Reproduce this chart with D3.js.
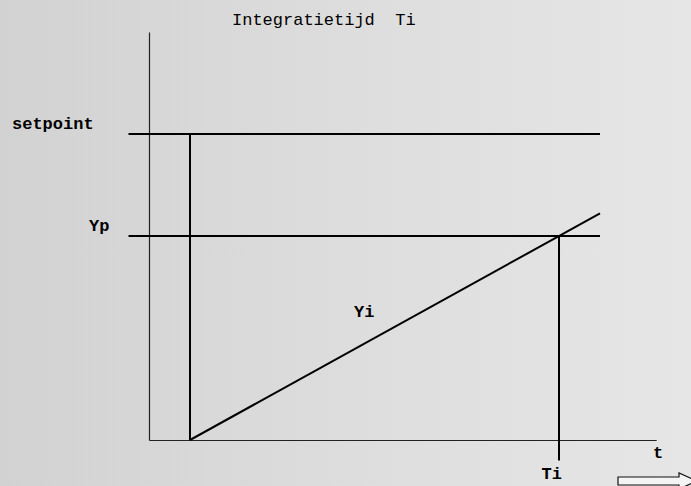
<!DOCTYPE html>
<html>
<head>
<meta charset="utf-8">
<script src="https://cdn.jsdelivr.net/npm/d3@7"></script>
<style>
  html, body { margin: 0; padding: 0; }
  svg { display: block; }
  text { font-family: "Liberation Mono", "DejaVu Sans Mono", monospace; fill: #000; }
</style>
</head>
<body>
<svg width="691" height="486"></svg>
<script>
document.addEventListener("DOMContentLoaded", function () {
  // levels on the y axis (relative units)
  const levelNames = ["setpoint", "Yp"];
  const levelValues = [3, 2];

  // integrating response: starts at t = 1, reaches Yp at t = Ti
  const rampT = [1, 11];
  const rampY = [0, 2.222];
  const stepT = 1;
  const tiValue = 10;

  const tMin = -0.5, tMax = 11, tAxisEnd = 12.37;
  const yAxisTop = 4;

  let svg = d3.select("svg");

  let x = d3.scaleLinear().domain([0, 1]).range([149, 190]);
  let y = d3.scaleLinear().domain([0, 1]).range([440, 338]);

  // background
  let grad = svg.append("defs").append("linearGradient")
    .attr("id", "bg").attr("x1", 0).attr("x2", 1).attr("y1", 0).attr("y2", 0);
  grad.append("stop").attr("offset", "0%").attr("stop-color", "#d2d2d2");
  grad.append("stop").attr("offset", "55%").attr("stop-color", "#dedede");
  grad.append("stop").attr("offset", "100%").attr("stop-color", "#e6e6e6");
  svg.append("rect").attr("width", 691).attr("height", 486).attr("fill", "url(#bg)");

  // axes (no ticks, just the baselines)
  let xAxisScale = x.copy().domain([0, tAxisEnd]).range([x(0), x(tAxisEnd)]);
  let yAxisScale = y.copy().domain([0, yAxisTop]).range([y(0), y(yAxisTop)]);

  svg.append("g")
    .attr("transform", "translate(0," + y(0) + ")")
    .call(d3.axisBottom(xAxisScale).tickValues([]).tickSizeOuter(0))
    .select(".domain").attr("stroke", "#222").attr("stroke-width", 1.2);

  svg.append("g")
    .attr("transform", "translate(" + x(0) + ",0)")
    .call(d3.axisLeft(yAxisScale).tickValues([]).tickSizeOuter(0))
    .select(".domain").attr("stroke", "#222").attr("stroke-width", 1.2);

  // horizontal levels
  svg.selectAll("line.level")
    .data(levelValues)
    .enter()
    .append("line")
    .attr("class", "level")
    .attr("x1", x(tMin))
    .attr("x2", x(tMax))
    .attr("y1", d => y(d))
    .attr("y2", d => y(d))
    .attr("stroke", "#000")
    .attr("stroke-width", 2.2);

  // step line at t = 1
  svg.append("line")
    .attr("x1", x(stepT)).attr("x2", x(stepT))
    .attr("y1", y(0)).attr("y2", y(levelValues[0]))
    .attr("stroke", "#000").attr("stroke-width", 2);

  // ramp
  let line = d3.line().x(d => x(d[0])).y(d => y(d[1]));
  svg.append("path")
    .attr("d", line(d3.zip(rampT, rampY)))
    .attr("fill", "none")
    .attr("stroke", "#000")
    .attr("stroke-width", 2);

  // Ti marker
  svg.append("line")
    .attr("x1", x(tiValue)).attr("x2", x(tiValue))
    .attr("y1", y(levelValues[1])).attr("y2", y(-0.2))
    .attr("stroke", "#000").attr("stroke-width", 2);

  // labels
  svg.append("text")
    .attr("x", 232).attr("y", 25)
    .attr("font-size", 17)
    .attr("xml:space", "preserve")
    .text("Integratietijd  Ti");

  svg.selectAll("text.level")
    .data(levelNames)
    .enter()
    .append("text")
    .attr("class", "level")
    .attr("x", (d, i) => i === 0 ? 12 : 89)
    .attr("y", (d, i) => y(levelValues[i]) - 5)
    .attr("font-size", 17)
    .attr("font-weight", "bold")
    .text(d => d);

  svg.append("text")
    .attr("x", 354).attr("y", 317)
    .attr("font-size", 17).attr("font-weight", "bold")
    .text("Yi");

  svg.append("text")
    .attr("x", x(tiValue) + 3).attr("y", 479)
    .attr("text-anchor", "end")
    .attr("font-size", 17).attr("font-weight", "bold")
    .text("Ti");

  svg.append("text")
    .attr("x", 653).attr("y", 458)
    .attr("font-size", 17).attr("font-weight", "bold")
    .text("t");

  // time arrow
  svg.append("path")
    .attr("d", "M618,477 H679 V473 L697,481 L679,489 V485 H618 Z")
    .attr("fill", "#f4f4f4")
    .attr("stroke", "#111")
    .attr("stroke-width", 1.2);
});
</script>
</body>
</html>
